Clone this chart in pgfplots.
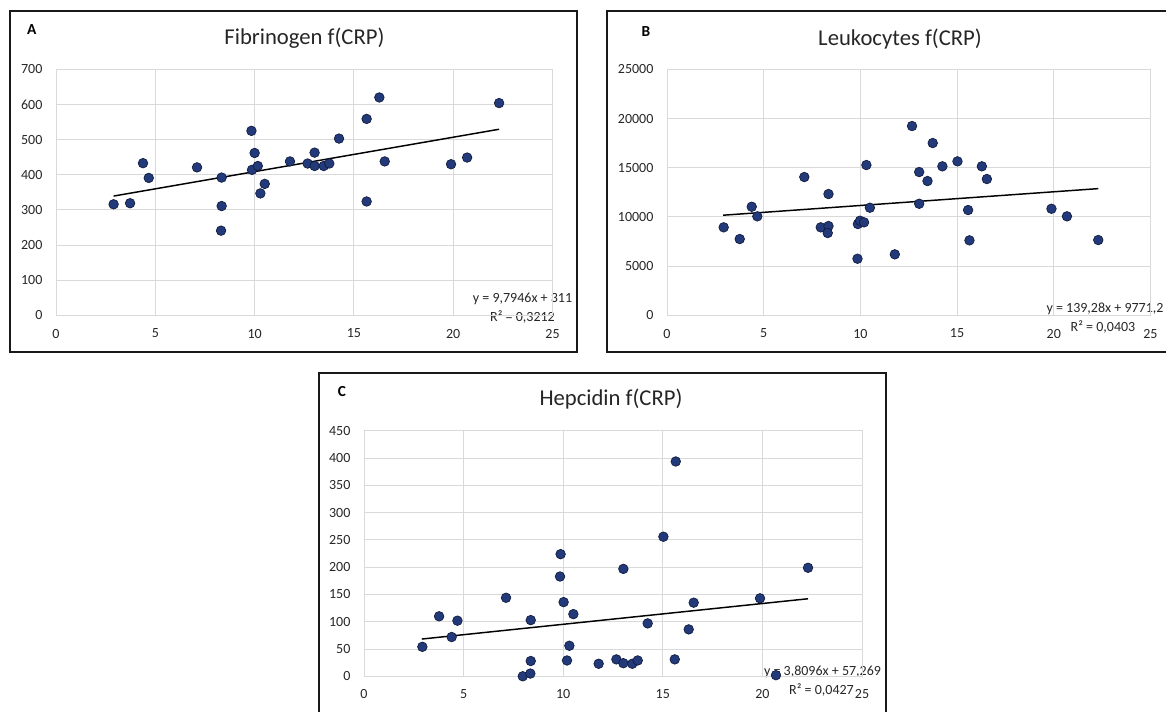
\documentclass[border=0pt]{standalone}
\usepackage{fontspec}
\setmainfont{Carlito}
\usepackage{pgfplots}
\pgfplotsset{compat=1.18}

\definecolor{dot}{HTML}{223A7A}
\definecolor{dotedge}{HTML}{111B3D}
\definecolor{gridc}{HTML}{D9D9D9}
\definecolor{txt}{HTML}{262626}

\pgfplotsset{
  crp/.style={
    scale only axis, anchor=south west,
    xmin=0, xmax=25, xtick={0,5,...,25}, ymin=0,
    scaled y ticks=false,
    grid=major, major grid style={draw=gridc, line width=0.75pt},
    axis line style={draw=gridc, line width=0.75pt},
    major tick length=0pt, tick style={draw=none},
    /pgf/number format/assume math mode=true,
    /pgf/number format/1000 sep={},
    ticklabel style={font=\fontsize{10.5}{12}\selectfont, text=txt},
    yticklabel style={anchor=east, inner sep=0pt, xshift=-10pt},
    xticklabel style={anchor=north, inner sep=0pt, yshift=-10pt},
    clip=false,
  },
  dots/.style={only marks, mark=*, mark size=3.6pt,
    mark options={fill=dot, draw=dotedge, line width=0.5pt}},
  trend/.style={no marks, black, line width=1.1pt},
}

\begin{document}
\begin{tikzpicture}
\useasboundingbox (0,0) rectangle (874.5pt,-533.25pt);
\clip (0,0) rectangle (874.5pt,-533.25pt);

% frames, titles, panel letters, trendline equations (positions in px)
\begin{scope}[x=0.75pt,y=-0.75pt]
  \draw[line width=1.5pt, black!90] (10,11) rectangle (577,352);
  \draw[line width=1.5pt, black!90] (607,11) rectangle (1180,352);
  \draw[line width=1.5pt, black!90] (319,373) rectangle (886,730);

  \node[font=\bfseries\fontsize{11.5}{13}\selectfont] at (31.7,30) {A};
  \node[font=\bfseries\fontsize{11.5}{13}\selectfont] at (646,32) {B};
  \node[font=\bfseries\fontsize{11.5}{13}\selectfont] at (342,392) {C};

  \node[font=\fontsize{17}{20}\selectfont, text=txt] at (304.5,38.5) {Fibrinogen f(CRP)};
  \node[font=\fontsize{17}{20}\selectfont, text=txt] at (900,39.5) {Leukocytes f(CRP)};
  \node[font=\fontsize{17}{20}\selectfont, text=txt] at (611,399.5) {Hepcidin f(CRP)};

  \node[font=\fontsize{10.5}{12}\selectfont, text=txt] at (522.5,299) {y = 9,7946x + 311};
  \node[font=\fontsize{10.5}{12}\selectfont, text=txt] at (522.5,317) {R² = 0,3212};
  \node[font=\fontsize{10.5}{12}\selectfont, text=txt] at (1105,309) {y = 139,28x + 9771,2};
  \node[font=\fontsize{10.5}{12}\selectfont, text=txt] at (1103,327) {R² = 0,0403};
  \node[font=\fontsize{10.5}{12}\selectfont, text=txt] at (822.5,672) {y = 3,8096x + 57,269};
  \node[font=\fontsize{10.5}{12}\selectfont, text=txt] at (821.5,689.5) {R² = 0,0427};
\end{scope}

% A: Fibrinogen
\begin{axis}[crp, at={(42pt,-236.5pt)}, width=372.4pt, height=184.5pt,
  ymax=700, ytick={0,100,...,700}]
\addplot[dots] coordinates {
  (2.90,316) (3.73,319) (4.38,433) (4.67,391) (7.10,421) (8.34,392) (8.34,311)
  (8.31,241) (9.84,525) (10.00,462) (9.87,414) (10.16,425) (10.29,347) (10.51,374)
  (11.78,438) (12.67,432) (13.02,463) (13.02,425) (13.48,425) (13.76,432) (14.25,503)
  (16.28,620) (15.64,559) (16.55,438) (15.64,324) (19.89,430) (20.70,449) (22.31,604)};
\addplot[trend] coordinates {(2.9,339.4) (22.31,529.5)};
\end{axis}

% B: Leukocytes
\begin{axis}[crp, at={(500.25pt,-236.5pt)}, width=362.6pt, height=184.5pt,
  ymax=25000, ytick={0,5000,...,25000}]
\addplot[dots] coordinates {
  (2.93,8943) (3.76,7754) (4.38,11037) (4.67,10061) (7.10,14055) (8.35,12327)
  (7.95,8943) (8.35,9075) (8.31,8364) (9.85,5752) (9.87,9278) (9.98,9614)
  (10.19,9451) (10.31,15274) (10.49,10935) (11.78,6199) (12.67,19238) (13.74,17510)
  (13.04,14563) (13.47,13648) (13.04,11341) (14.24,15142) (15.02,15650) (16.28,15142)
  (16.54,13852) (15.57,10701) (15.64,7622) (19.88,10833) (20.68,10061) (22.30,7652)};
\addplot[trend] coordinates {(2.9,10175.1) (22.3,12877.1)};
\end{axis}

% C: Hepcidin
\begin{axis}[crp, at={(273pt,-507.2pt)}, width=373.5pt, height=184pt,
  ymax=450, ytick={0,50,...,450}]
\addplot[dots] coordinates {
  (2.93,54) (3.77,110) (4.40,72) (4.69,102) (7.13,144) (7.97,0) (8.37,28)
  (8.35,5) (8.37,103) (9.87,224) (9.84,183) (10.02,136) (10.51,114) (10.31,56)
  (10.19,29) (11.78,23) (12.67,31) (13.02,24) (13.47,23) (13.74,29) (13.02,197)
  (14.24,97) (15.03,256) (15.65,394) (15.60,31) (16.30,86) (16.55,135) (19.88,143)
  (20.68,2) (22.29,199)};
\addplot[trend] coordinates {(2.9,68.3) (22.29,142.2)};
\end{axis}
\end{tikzpicture}
\end{document}
